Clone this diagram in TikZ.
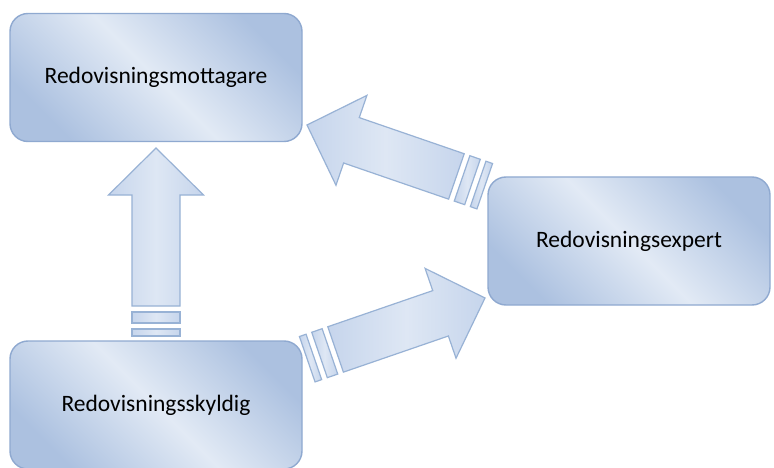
\documentclass[tikz,border=0pt]{standalone}
\usepackage{fontspec}
\setmainfont{Carlito}
\definecolor{boxline}{RGB}{143,169,208}
\definecolor{boxdark}{RGB}{172,193,224}
\definecolor{boxlight}{RGB}{226,234,245}
\definecolor{arrline}{RGB}{152,178,213}
\definecolor{arrdark}{RGB}{198,213,236}
\definecolor{arrlight}{RGB}{222,231,244}
\tikzset{
  box/.style={rounded corners=18pt, draw=boxline, line width=1.4pt,
    top color=boxdark, bottom color=boxdark, middle color=boxlight,
    shading angle=-45, minimum width=292pt, minimum height=128pt,
    font=\fontsize{23.5}{28}\selectfont, text=black},
  blockarrow/.style={draw=arrline, line width=1.2pt, line join=miter,
    top color=arrdark, bottom color=arrdark, middle color=arrlight,
    shading angle=90}
}
% block arrow pointing along +x with its tip at the origin
\newcommand{\blockarrowshape}{%
  \path[blockarrow] (0,0) -- (-47,47.5) -- (-47,24) -- (-158,24)
    -- (-158,-24) -- (-47,-24) -- (-47,-47.5) -- cycle;
  \path[blockarrow] (-164,24) rectangle (-175,-24);
  \path[blockarrow] (-181,24) rectangle (-188,-24);
}
\begin{document}
\begin{tikzpicture}[x=1pt,y=-1pt]
  \useasboundingbox (0,0) rectangle (774,468);
  \fill[white] (0,0) rectangle (774,468);

  \node[box] (mottagare) at (156,77.5) {Redovisningsmottagare};
  \node[box] (skyldig) at (156,405) {Redovisningsskyldig};
  \node[box, minimum width=282pt] (expert) at (629,241) {Redovisningsexpert};

  \coordinate (tipUp) at (156,148);
  \coordinate (tipLeft) at (307,125);
  \coordinate (tipRight) at (485,298);

  \begin{scope}[shift={(tipUp)}, rotate=90]
    \blockarrowshape
  \end{scope}
  \begin{scope}[shift={(tipLeft)}, rotate=161]
    \blockarrowshape
  \end{scope}
  \begin{scope}[shift={(tipRight)}, rotate=19]
    \blockarrowshape
  \end{scope}
\end{tikzpicture}
\end{document}
